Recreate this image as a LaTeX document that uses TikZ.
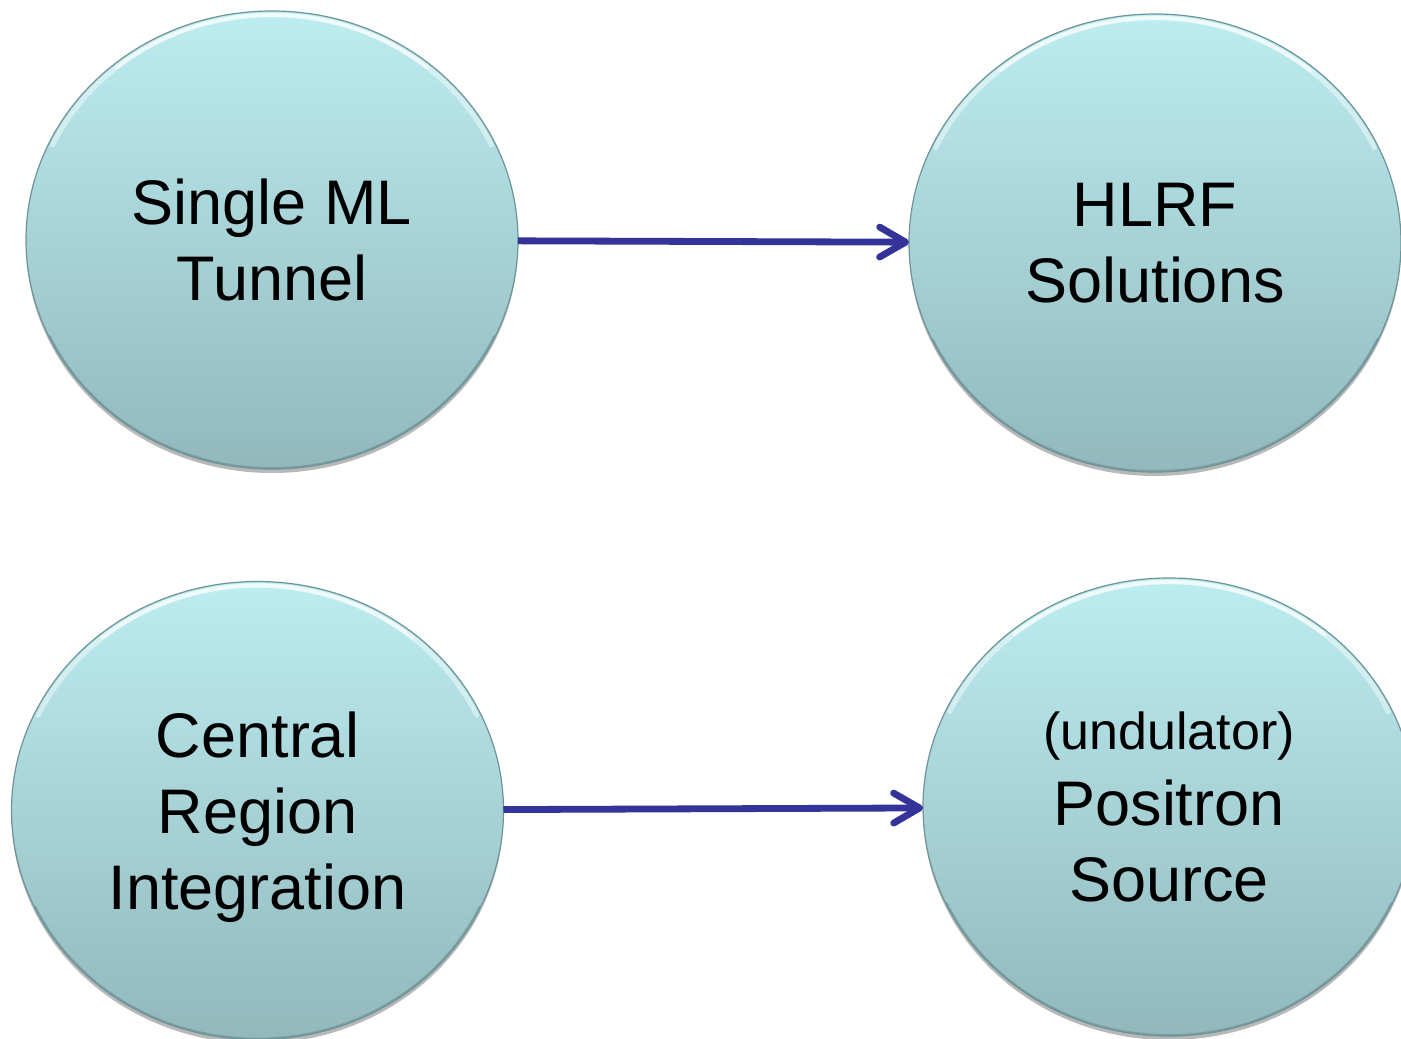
\documentclass[tikz,border=0pt]{standalone}
\usepackage{fontspec}
\setmainfont{Liberation Sans}
\usetikzlibrary{arrows.meta,shapes.geometric,shadows}

\definecolor{disctop}{HTML}{BCEDF1}
\definecolor{discbot}{HTML}{92B8BC}
\definecolor{discrim}{HTML}{6E9498}
\definecolor{linkblue}{HTML}{333399}

\tikzset{
  disc/.style={ellipse, minimum width=246pt, minimum height=229pt,
    inner sep=0pt, outer sep=0pt,
    top color=disctop, bottom color=discbot,
    draw=discrim, line width=0.6pt,
    drop shadow={shadow xshift=0pt, shadow yshift=-2pt, opacity=.28, fill=black},
    align=center, text depth=0pt,
    font=\fontsize{31.5}{38}\selectfont},
  link/.style={draw=linkblue, line width=3.4pt,
    -{Straight Barb[round, length=13pt, width=15pt]}},
  rimlight/.style={draw=white, line cap=round},
  rimdark/.style={draw=discrim, line cap=round, line width=1.1pt, opacity=.7}
}

\begin{document}
\begin{tikzpicture}[x=0.5pt, y=-0.5pt]
  \clip (0,0) rectangle (1401,1038);
  \fill[white] (0,0) rectangle (1401,1038);

  % the four topic discs
  \node[disc] (A) at (272,240)     {Single ML\\Tunnel};
  \node[disc] (B) at (1155,243)    {HLRF\\Solutions};
  \node[disc] (C) at (257.5,810.5) {Central\\Region\\Integration};
  \node[disc] (D) at (1169,807)    {{\fontsize{26}{31}\selectfont (undulator)}\\Positron\\Source};

  % bevel: bright rim along the top, darker rim along the bottom
  \foreach \n in {A,B,C,D} {
    \draw[rimlight, line width=2.4pt, opacity=.45]
      (\n.center) ++(155:121pt and 112.5pt)
      arc[start angle=155, end angle=25, x radius=121pt, y radius=112.5pt];
    \draw[rimlight, line width=1.8pt, opacity=.6]
      (\n.center) ++(130:121pt and 112.5pt)
      arc[start angle=130, end angle=50, x radius=121pt, y radius=112.5pt];
    \draw[rimdark]
      (\n.center) ++(205:122.6pt and 114.1pt)
      arc[start angle=205, end angle=335, x radius=122.6pt, y radius=114.1pt];
  }

  % connectors
  \draw[link] (A) -- (B);
  \draw[link] (C) -- (D);
\end{tikzpicture}
\end{document}
